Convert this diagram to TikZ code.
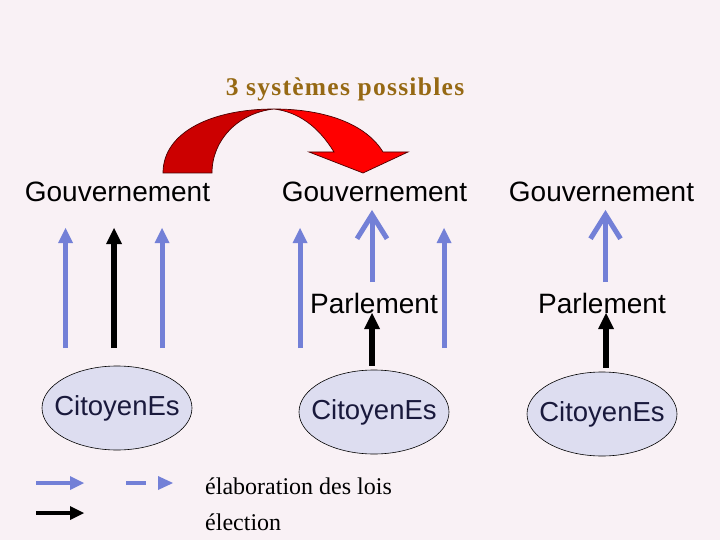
\documentclass[tikz,border=0pt]{standalone}
\usepackage{fontspec}
\setmainfont{Liberation Serif}
\setsansfont{Liberation Sans}
\usetikzlibrary{arrows.meta,shapes.geometric}
\definecolor{bg}{RGB}{249,241,245}
\definecolor{blu}{RGB}{115,128,215}
\definecolor{ellfill}{RGB}{221,221,240}
\definecolor{navy}{RGB}{25,25,60}
\definecolor{gold}{RGB}{150,105,20}
\definecolor{dred}{RGB}{204,0,0}
\definecolor{bred}{RGB}{255,0,0}
\begin{document}
\begin{tikzpicture}[x=1pt,y=-1pt,
  lbl/.style={font=\fontsize{28}{30}\selectfont\sffamily, inner sep=0pt, anchor=base},
  cit/.style={ellipse, draw=black, line width=0.6pt, fill=ellfill, minimum width=150pt,
              minimum height=84pt, inner sep=0pt, font=\fontsize{27.5}{30}\selectfont\sffamily, text=navy},
  barrow/.style={draw=blu, line width=5pt, -{Triangle[length=15pt,width=15pt,line width=0pt]}},
  karrow/.style={draw=black, line width=6pt, -{Triangle[length=16pt,width=16pt,line width=0pt]}},
  oarrow/.style={draw=blu, line width=5pt, -{Straight Barb[length=24pt,width=30pt]}},
  leg/.style={font=\fontsize{24}{26}\selectfont\rmfamily, inner sep=0pt, anchor=base west}
]
\fill[bg] (0,0) rectangle (720,540);
\useasboundingbox (0,0) rectangle (720,540);

% title
\node[font=\fontsize{25.5}{28}\selectfont\bfseries\rmfamily\addfontfeatures{LetterSpace=5}, text=gold, inner sep=0pt, anchor=base] (title) at (345,96) {3 systèmes possibles};

% red curved arrow
\filldraw[fill=dred, draw=black!70!red, line width=0.7pt]
  (163,173) .. controls (163,132) and (212,109) .. (274,109)
  .. controls (238,113) and (212,140) .. (212,173) -- cycle;
\filldraw[fill=bred, draw=black!70!red, line width=0.7pt]
  (274,109) .. controls (325,109) and (366,124) .. (383,152)
  -- (408,152) -- (363,173) -- (309,152) -- (334,152)
  .. controls (318,126) and (298,112) .. (274,109) -- cycle;

% column 1
\node[lbl] (g1) at (117.5,202) {Gouvernement};
\node[cit] (c1) at (117,408) {\makebox[90pt]{CitoyenEs}};
\coordinate (a1b) at (65.5,348); \coordinate (a1t) at (65.5,228);
\coordinate (k1b) at (114,348);  \coordinate (k1t) at (114,228);
\coordinate (b1b) at (162,348);  \coordinate (b1t) at (162,228);
\draw[barrow] (a1b) -- (a1t);
\draw[karrow] (k1b) -- (k1t);
\draw[barrow] (b1b) -- (b1t);

% column 2
\node[lbl] (g2) at (374.5,202) {Gouvernement};
\node[lbl] (p2) at (374,313) {Parlement};
\node[cit] (c2) at (374,412) {\makebox[90pt]{CitoyenEs}};
\coordinate (a2b) at (300,348); \coordinate (a2t) at (300,228);
\coordinate (b2b) at (444,348); \coordinate (b2t) at (444,228);
\coordinate (o2b) at (372,282); \coordinate (o2t) at (372,210);
\draw[barrow] (a2b) -- (a2t);
\draw[barrow] (b2b) -- (b2t);
\draw[oarrow] (o2b) -- (o2t);
\draw[karrow] ([yshift=4pt]c2.north -| 372,0) -- (p2.base -| 372,0);

% column 3
\node[lbl] (g3) at (601.5,202) {Gouvernement};
\node[lbl] (p3) at (602,313) {Parlement};
\node[cit] (c3) at (602,414) {\makebox[90pt]{CitoyenEs}};
\coordinate (o3b) at (605.5,282); \coordinate (o3t) at (605.5,210);
\draw[oarrow] (o3b) -- (o3t);
\draw[karrow] ([yshift=4pt]c3.north -| 606,0) -- (p3.base -| 606,0);

% legend
\coordinate (l1a) at (36,483);  \coordinate (l1b) at (84,483);
\coordinate (l2a) at (126,483); \coordinate (l2b) at (173,483);
\coordinate (l3a) at (36,513);  \coordinate (l3b) at (84,513);
\draw[draw=blu, line width=4pt, -{Triangle[length=14pt,width=14pt,line width=0pt]}] (l1a) -- (l1b);
\draw[draw=blu, line width=4pt, dash pattern=on 20pt off 12pt, -{Triangle[length=15pt,width=14pt,line width=0pt]}] (l2a) -- (l2b);
\draw[draw=black, line width=4pt, -{Triangle[length=14pt,width=14pt,line width=0pt]}] (l3a) -- (l3b);
\node[leg] (t1) at (205,494) {élaboration des lois};
\node[leg] (t2) at (205,530) {élection};
\end{tikzpicture}
\end{document}
